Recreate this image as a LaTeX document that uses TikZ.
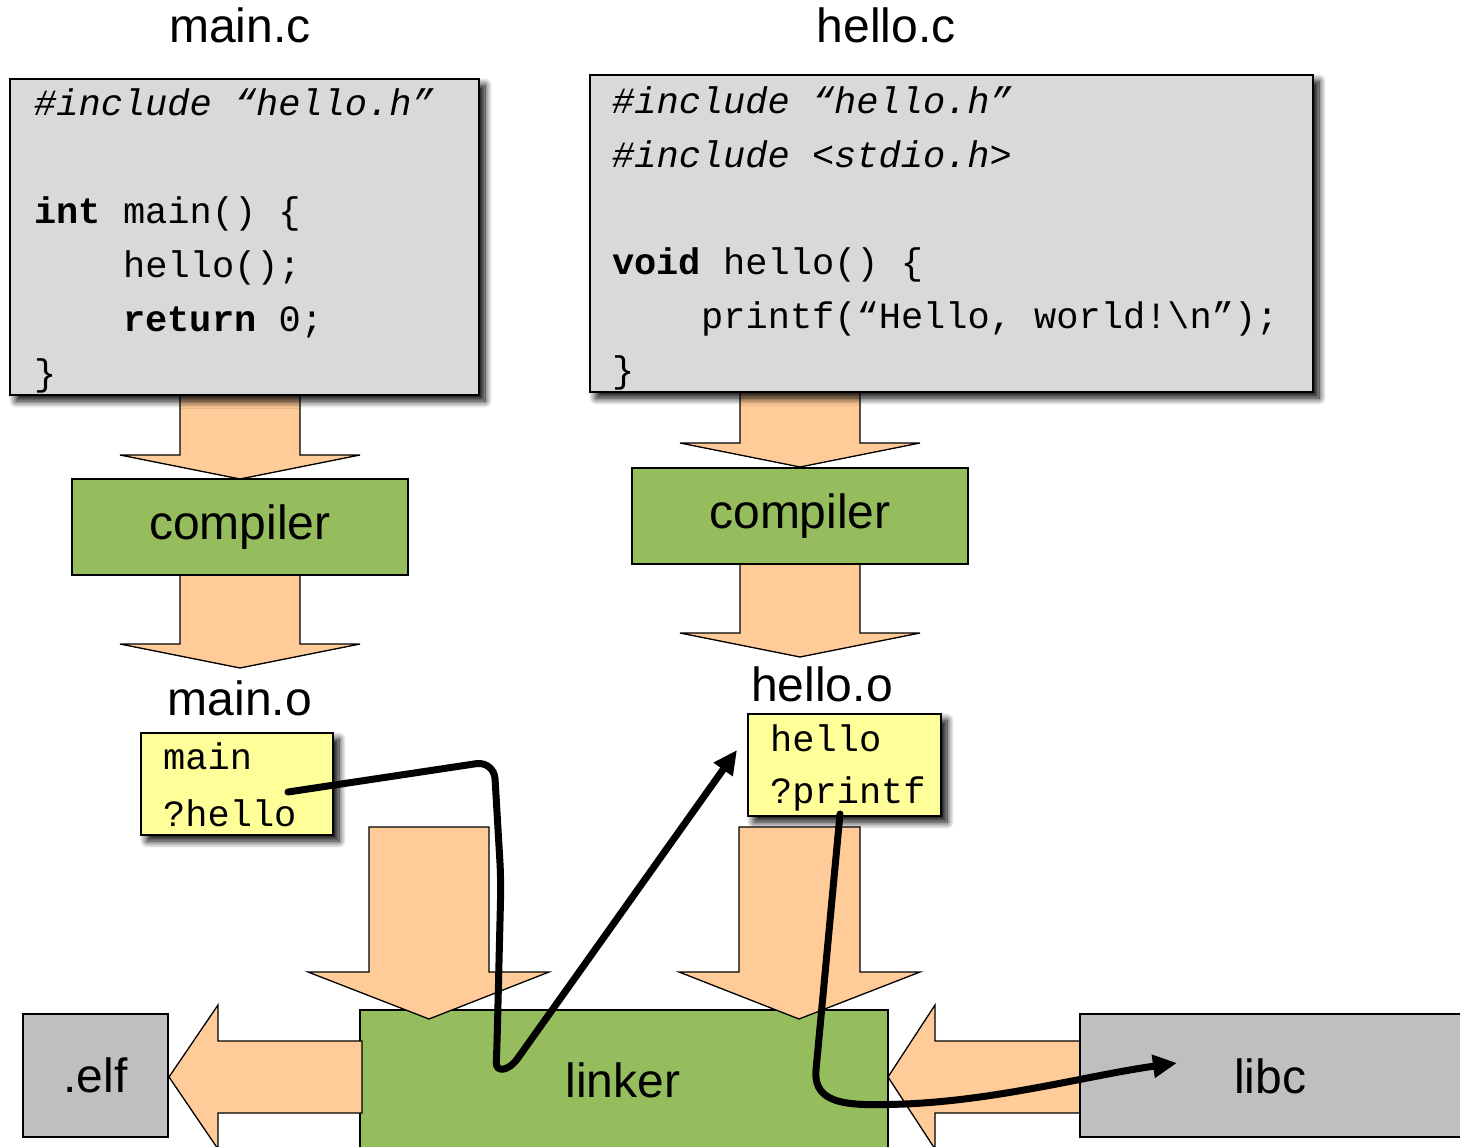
\documentclass[tikz,border=0pt]{standalone}
\usepackage{fontspec}
\setmainfont{Liberation Sans}
\setmonofont{Liberation Mono}
\usetikzlibrary{shadows.blur,arrows.meta}
\definecolor{codegray}{RGB}{217,217,217}
\definecolor{boxgreen}{RGB}{149,189,94}
\definecolor{arroworange}{RGB}{255,204,153}
\definecolor{objyellow}{RGB}{255,255,153}
\definecolor{libgray}{RGB}{191,191,191}
\begin{document}
\begin{tikzpicture}[x=1pt,y=-1pt,
  rect/.style={anchor=north west, inner sep=0pt, outer sep=0pt},
  softshadow/.style={blur shadow={shadow xshift=6pt, shadow yshift=-6pt, shadow blur radius=7pt, shadow blur steps=12, shadow opacity=100}},
  codebox/.style={rect, draw=black, line width=1.8pt, fill=codegray, softshadow},
  objbox/.style={rect, draw=black, line width=1.8pt, fill=objyellow, softshadow},
  toolbox/.style={rect, draw=black, line width=1.5pt, fill=boxgreen},
  filebox/.style={rect, draw=black, line width=1.5pt, fill=libgray},
  blockarrow/.style={draw=black, line width=1.3pt, fill=arroworange, line join=miter},
  title/.style={font=\fontsize{48}{58}\selectfont, inner sep=0pt},
  code/.style={anchor=base west, inner sep=0pt, font=\fontsize{37}{44}\selectfont\ttfamily},
  conn/.style={draw=black, line width=7pt, line cap=round, line join=round, -{Triangle[length=24pt,width=22pt]}}
]
\useasboundingbox (0,0) rectangle (1460,1147);
\clip (0,0) rectangle (1460,1147);

% titles
\node[title] (tmainc) at (240,25) {main.c};
\node[title] (thelloc) at (886,25) {hello.c};

% block arrows below sources and compilers
\filldraw[blockarrow] (180,390) -- (180,455) -- (120,455) -- (240,479) -- (360,455) -- (300,455) -- (300,390);
\filldraw[blockarrow] (180,570) -- (180,644) -- (120,644) -- (240,668) -- (360,644) -- (300,644) -- (300,570);
\filldraw[blockarrow] (740,388) -- (740,443) -- (680,443) -- (800,467) -- (920,443) -- (860,443) -- (860,388);
\filldraw[blockarrow] (740,560) -- (740,633) -- (680,633) -- (800,657) -- (920,633) -- (860,633) -- (860,560);

% source boxes
\node[codebox, minimum width=469pt, minimum height=316pt] (mainc) at (10,79) {};
\node[codebox, minimum width=723pt, minimum height=317pt] (helloc) at (590,75) {};

\node[code] (m1) at (34,116) {\itshape \#include “hello.h”};
\node[code] (m2) at (34,224) {\bfseries int\mdseries{} main() \{};
\node[code] (m3) at (123,278) {hello();};
\node[code] (m4) at (123,332) {\bfseries return\mdseries{} 0;};
\node[code] (m5) at (34,386) {\}};

\node[code] (h1) at (612,114) {\itshape \#include “hello.h”};
\node[code] (h2) at (612,168) {\itshape \#include <stdio.h>};
\node[code] (h3) at (612,275) {\bfseries void\mdseries{} hello() \{};
\node[code] (h4) at (701,329) {printf(“Hello, world!\textbackslash n”);};
\node[code] (h5) at (612,383) {\}};

% compilers
\node[toolbox, minimum width=336pt, minimum height=96pt] (comp1) at (72,479) {};
\node[title] at (comp1.center) {compiler};
\node[toolbox, minimum width=336pt, minimum height=96pt] (comp2) at (632,468) {};
\node[title] at (comp2.center) {compiler};

% object files
\node[title] (tmaino) at (240,698) {main.o};
\node[title] (thelloo) at (822,684) {hello.o};
\node[objbox, minimum width=192pt, minimum height=102pt] (mainobj) at (141,733) {};
\node[code] (mo1) at (163,769) {main};
\node[code] (mo2) at (163,826) {?hello};
\node[objbox, minimum width=193pt, minimum height=102pt] (helloobj) at (748,714) {};
\node[code] (ho1) at (770,751) {hello};
\node[code] (ho2) at (770,803) {?printf};

% linker
\node[toolbox, minimum width=528pt, minimum height=160pt] (linker) at (360,1010) {};
\node[title] (tlinker) at (623,1080) {linker};

% arrows into linker
\filldraw[blockarrow] (369,827) -- (369,972) -- (308,972) -- (429,1019) -- (549,972) -- (489,972) -- (489,827) -- cycle;
\filldraw[blockarrow] (739,827) -- (739,972) -- (679,972) -- (799,1019) -- (920,972) -- (860,972) -- (860,827) -- cycle;
% linker -> elf
\filldraw[blockarrow] (362,1041) -- (218,1041) -- (218,1005) -- (169,1077) -- (218,1149) -- (218,1113) -- (362,1113) -- cycle;
% libc -> linker
\filldraw[blockarrow] (1085,1041) -- (935,1041) -- (935,1005) -- (888,1077) -- (935,1149) -- (935,1113) -- (1085,1113) -- cycle;

% elf and libc
\node[filebox, minimum width=145pt, minimum height=123pt] (elf) at (23,1014) {};
\node[title] at (elf.center) {.elf};
\node[filebox, minimum width=400pt, minimum height=123pt] (libc) at (1080,1014) {};
\node[title] (tlibc) at (1270,1076) {libc};

% symbol resolution connectors
\coordinate (s1) at (288,792);
\coordinate (e1) at (737,750);
\coordinate (s2) at (840,814);
\coordinate (e2) at (1177,1063);
\draw[conn, rounded corners=18pt] (s1) -- (494,761) -- (501,880) -- (497,1045) [sharp corners] .. controls (496,1072) and (508,1072) .. (518,1058) -- (e1);
\draw[conn] (s2) -- (816,1070) .. controls (813,1106) and (850,1106) .. (905,1104) .. controls (1000,1100) and (1090,1075) .. (e2);
\end{tikzpicture}
\end{document}
